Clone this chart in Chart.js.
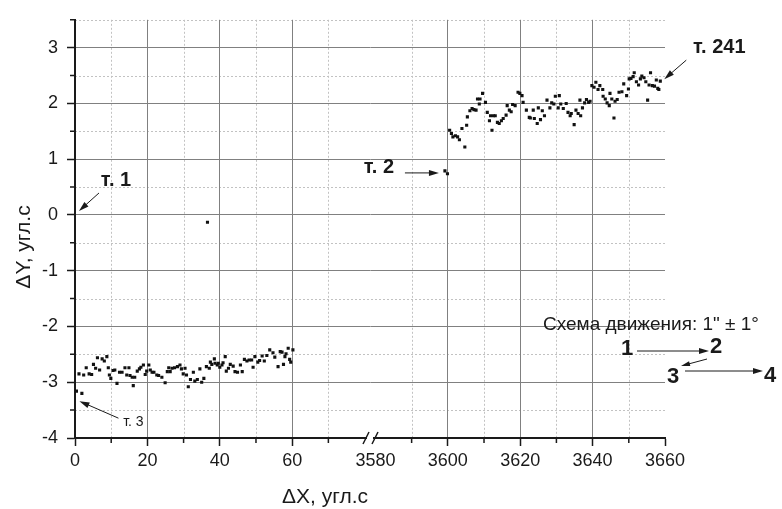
<!DOCTYPE html>
<html>
<head>
<meta charset="utf-8">
<title>ΔY от ΔX</title>
<script src="https://cdn.jsdelivr.net/npm/chart.js@4/dist/chart.umd.min.js"></script>
<style>
  html, body { margin: 0; background: #fff; }
  #wrap { width: 782px; height: 509px; }
</style>
</head>
<body>
<div id="wrap"><canvas id="myChart"></canvas></div>
<script>
// --- data ---
const leftX = [0.4, 1.1, 1.9, 2.4, 3.1, 3.9, 4.6, 5.1, 5.7, 6.2, 6.8, 7.5, 8.1, 8.8, 9.2, 9.5, 9.9,
  10.5, 11.0, 11.6, 12.3, 13.0, 13.8, 14.3, 14.9, 15.2, 15.8, 16.1, 16.5, 17.2, 17.8, 18.2, 18.9, 19.4, 19.8,
  20.4, 20.8, 21.3, 21.8, 22.6, 23.1, 24.0, 24.9, 25.5, 25.9, 26.3, 26.8, 27.5, 28.3, 29.0, 29.4, 29.9,
  30.4, 30.8, 31.3, 31.9, 32.7, 33.1, 33.8, 34.5, 35.0, 35.6, 36.3, 37.1, 37.4, 37.8, 38.5, 38.7, 39.3, 39.6,
  40.0, 40.6, 40.9, 41.5, 41.8, 42.4, 42.9, 43.7, 44.2, 44.9, 45.7, 46.2, 46.8, 47.5, 48.1, 48.8, 49.2, 49.7,
  50.5, 51.0, 51.7, 52.3, 53.0, 53.8, 54.7, 55.2, 56.1, 56.7, 57.2, 57.6, 58.0, 58.3, 58.9, 59.3, 59.6, 60.2];
const leftY = [-3.16, -2.85, -3.20, -2.87, -2.74, -2.85, -2.86, -2.68, -2.75, -2.56, -2.78, -2.58, -2.62, -2.54, -2.74, -2.87, -2.93,
  -2.79, -2.78, -3.02, -2.82, -2.82, -2.74, -2.87, -2.74, -2.88, -2.91, -3.06, -2.91, -2.80, -2.76, -2.73, -2.69, -2.86, -2.80,
  -2.69, -2.78, -2.82, -2.82, -2.87, -2.88, -2.91, -3.01, -2.81, -2.74, -2.81, -2.75, -2.74, -2.72, -2.69, -2.76, -2.85,
  -2.75, -2.87, -3.08, -2.95, -2.82, -2.98, -2.95, -2.76, -3.00, -2.93, -2.72, -2.75, -2.64, -2.68, -2.58, -2.66, -2.69, -2.66,
  -2.73, -2.69, -2.65, -2.54, -2.80, -2.75, -2.68, -2.71, -2.81, -2.82, -2.69, -2.81, -2.59, -2.62, -2.60, -2.60, -2.73, -2.54,
  -2.64, -2.61, -2.53, -2.62, -2.52, -2.42, -2.47, -2.55, -2.72, -2.45, -2.46, -2.68, -2.54, -2.49, -2.39, -2.59, -2.64, -2.42];

const loneX = [36.6];
const loneY = [-0.13];

const rightX = [3599.2, 3599.9, 3600.5, 3601.0, 3601.4, 3602.1, 3602.7, 3603.2, 3603.9, 3604.7, 3605.2, 3605.4, 3606.1, 3606.7,
  3607.2, 3607.8, 3608.2, 3608.7, 3608.9, 3609.6, 3610.4, 3610.9, 3611.5, 3611.8, 3612.2, 3612.6, 3613.1, 3613.7, 3614.2,
  3614.8, 3615.3, 3616.1, 3616.4, 3617.0, 3617.5, 3617.9, 3618.6, 3619.4, 3619.9, 3620.5, 3620.8, 3621.7, 3622.5, 3622.8,
  3623.6, 3623.9, 3624.7, 3625.0, 3625.6, 3626.1, 3626.7, 3627.4, 3628.2, 3628.7, 3629.3, 3629.7, 3630.5, 3630.8, 3631.2,
  3631.9, 3632.7, 3633.2, 3633.8, 3634.1, 3634.9, 3635.4, 3636.0, 3636.5, 3636.7, 3637.2, 3637.8, 3638.3, 3638.9, 3639.3,
  3639.8, 3640.4, 3640.9, 3641.5, 3642.0, 3642.8, 3642.9, 3643.5, 3644.0, 3644.6, 3644.8, 3645.3, 3645.9, 3646.2, 3646.8,
  3647.3, 3648.1, 3648.6, 3649.4, 3649.9, 3650.1, 3650.6, 3651.2, 3651.5, 3652.1, 3652.7, 3653.2, 3653.6, 3654.2, 3654.7,
  3655.2, 3655.6, 3656.0, 3656.5, 3657.1, 3657.6, 3658.0, 3658.3, 3658.7];
const rightY = [0.79, 0.74, 1.52, 1.46, 1.40, 1.42, 1.40, 1.35, 1.55, 1.22, 1.61, 1.76, 1.87, 1.91,
  1.89, 1.88, 2.08, 1.99, 2.08, 2.18, 2.02, 1.84, 1.69, 1.78, 1.52, 1.78, 1.78, 1.66, 1.64,
  1.69, 1.73, 1.79, 1.96, 1.88, 1.85, 1.98, 1.96, 2.20, 2.18, 2.14, 2.02, 1.88, 1.75, 1.74,
  1.88, 1.73, 1.64, 1.92, 1.71, 1.87, 1.78, 2.06, 1.92, 2.01, 1.99, 2.13, 1.92, 2.14, 1.99,
  1.91, 2.00, 1.84, 1.78, 1.82, 1.62, 1.88, 1.82, 2.06, 1.78, 1.92, 2.01, 2.07, 2.02, 2.04,
  2.32, 2.29, 2.38, 2.25, 2.32, 2.25, 2.13, 2.08, 2.01, 1.96, 2.18, 2.08, 1.74, 2.04, 2.07,
  2.20, 2.21, 2.35, 2.14, 2.26, 2.44, 2.45, 2.48, 2.55, 2.39, 2.33, 2.44, 2.49, 2.46, 2.39,
  2.06, 2.33, 2.55, 2.32, 2.31, 2.42, 2.27, 2.25, 2.40];

const xMajor = [0, 20, 40, 60, 3580, 3600, 3620, 3640, 3660];
const xMinor = [10, 30, 50, 70, 3590, 3610, 3630, 3650];
const xSolidGrid = [20, 40, 60, 3600, 3620, 3640];
const yMajor = [-4, -3, -2, -1, 0, 1, 2, 3];
const yMinor = [-3.5, -2.5, -1.5, -0.5, 0.5, 1.5, 2.5, 3.5];

// broken x axis: 3580 sits at 83 on the folded scale
const BREAK_FROM = 3580;
const BREAK_AT = 83;
const fold = x => (x >= BREAK_FROM - 15 ? x - BREAK_FROM + BREAK_AT : x);

const toPts = (xs, ys) => xs.map((x, i) => ({ x: fold(x), y: ys[i] }));

const FONT = "'Liberation Sans', Arial, sans-serif";
const INK = '#1a1a1a';

function arrow(ctx, x1, y1, x2, y2, head = 10, half = 3) {
  const a = Math.atan2(y2 - y1, x2 - x1);
  ctx.beginPath();
  ctx.moveTo(x1, y1);
  ctx.lineTo(x2 - head * 0.8 * Math.cos(a), y2 - head * 0.8 * Math.sin(a));
  ctx.stroke();
  ctx.beginPath();
  ctx.moveTo(x2, y2);
  ctx.lineTo(x2 - head * Math.cos(a) + half * Math.sin(a), y2 - head * Math.sin(a) - half * Math.cos(a));
  ctx.lineTo(x2 - head * Math.cos(a) - half * Math.sin(a), y2 - head * Math.sin(a) + half * Math.cos(a));
  ctx.closePath();
  ctx.fill();
}

// minor dotted grid and short ticks, under everything else
const minorGrid = {
  id: 'minorGrid',
  beforeDraw(chart) {
    const { ctx, chartArea: a, scales: { x, y } } = chart;
    ctx.save();
    ctx.lineWidth = 1;
    ctx.strokeStyle = '#c2c2c2';
    ctx.setLineDash([2, 2]);
    ctx.beginPath();
    xMinor.forEach(v => {
      const px = Math.round(x.getPixelForValue(fold(v))) + 0.5;
      ctx.moveTo(px, a.top); ctx.lineTo(px, a.bottom);
    });
    yMinor.forEach(v => {
      const py = Math.round(y.getPixelForValue(v)) + 0.5;
      ctx.moveTo(a.left, py); ctx.lineTo(a.right, py);
    });
    ctx.stroke();
    ctx.setLineDash([]);
    ctx.strokeStyle = INK;
    ctx.lineWidth = 1.5;
    ctx.beginPath();
    xMinor.forEach(v => {
      const px = x.getPixelForValue(fold(v));
      ctx.moveTo(px, a.bottom); ctx.lineTo(px, a.bottom + 5);
    });
    yMinor.forEach(v => {
      const py = y.getPixelForValue(v);
      ctx.moveTo(a.left - 5, py); ctx.lineTo(a.left, py);
    });
    ctx.stroke();
    ctx.restore();
  }
};

// axis break, titles and the point labels
const notes = {
  id: 'notes',
  afterDraw(chart) {
    const { ctx, chartArea: a, scales: { x, y } } = chart;
    ctx.save();
    ctx.fillStyle = INK;
    ctx.strokeStyle = INK;

    // break marks on the x axis
    const bx = x.getPixelForValue(81.5);
    ctx.fillStyle = '#fff';
    ctx.fillRect(bx - 3, a.bottom - 2, 6, 4);
    ctx.fillStyle = INK;
    ctx.lineWidth = 1.5;
    ctx.beginPath();
    ctx.moveTo(bx - 7, a.bottom + 6); ctx.lineTo(bx - 1, a.bottom - 6);
    ctx.moveTo(bx + 2, a.bottom + 6); ctx.lineTo(bx + 8, a.bottom - 6);
    ctx.stroke();

    // axis titles
    ctx.font = '21px ' + FONT;
    ctx.textAlign = 'center';
    ctx.textBaseline = 'middle';
    ctx.fillText('ΔX, угл.с', 325, 497);
    ctx.save();
    ctx.translate(24, 247);
    ctx.rotate(-Math.PI / 2);
    ctx.fillText('ΔY, угл.с', 0, 0);
    ctx.restore();

    // point labels
    ctx.lineWidth = 1;
    const at = (xv, yv) => [x.getPixelForValue(fold(xv)), y.getPixelForValue(yv)];
    let [px, py] = at(0, 0);
    ctx.font = 'bold 20px ' + FONT;
    ctx.fillText('т. 1', px + 41, py - 34);
    arrow(ctx, px + 24, py - 22, px + 4, py - 4);

    [px, py] = at(rightX[0], rightY[0]);
    ctx.fillText('т. 2', px - 66, py - 3);
    arrow(ctx, px - 40, py + 2, px - 6, py + 2);

    [px, py] = at(rightX[rightX.length - 1], rightY[rightY.length - 1]);
    ctx.fillText('т. 241', px + 59, py - 34);
    arrow(ctx, px + 26, py - 21, px + 4, py - 2);

    [px, py] = at(leftX[0], leftY[0]);
    ctx.font = '14px ' + FONT;
    ctx.fillText('т. 3', px + 57, py + 31);
    arrow(ctx, px + 42, py + 27, px + 3, py + 10);

    // movement scheme
    ctx.font = '19px ' + FONT;
    ctx.textAlign = 'left';
    ctx.fillText('Схема движения: 1" ± 1°', 543, 325);
    ctx.font = 'bold 22px ' + FONT;
    ctx.textAlign = 'center';
    ctx.fillText('1', 627, 349);
    ctx.fillText('2', 716, 347);
    ctx.fillText('3', 673, 377);
    ctx.fillText('4', 770, 376);
    arrow(ctx, 637, 351, 709, 351);
    arrow(ctx, 707, 359, 681, 366, 9, 2.5);
    arrow(ctx, 685, 371, 763, 371);
    ctx.restore();
  }
};

const dotStyle = { pointStyle: 'rect', pointRadius: 2.2, pointHoverRadius: 2.2, borderWidth: 0, backgroundColor: '#111', showLine: false };

new Chart(document.getElementById('myChart'), {
  type: 'scatter',
  data: {
    datasets: [
      { label: 'ΔX 0…60', data: toPts(leftX, leftY), ...dotStyle },
      { label: 'выброс', data: toPts(loneX, loneY), ...dotStyle },
      { label: 'ΔX 3600…3660', data: toPts(rightX, rightY), ...dotStyle }
    ]
  },
  options: {
    responsive: true,
    maintainAspectRatio: false,
    animation: false,
    events: [],
    layout: { padding: { left: 0, top: 16, right: 117, bottom: 0 } },
    plugins: { legend: { display: false }, tooltip: { enabled: false } },
    scales: {
      x: {
        type: 'linear',
        min: 0,
        max: fold(3660),
        afterBuildTicks: s => { s.ticks = xMajor.map(v => ({ value: fold(v) })); },
        afterFit: s => { s.height = 71; },
        ticks: {
          autoSkip: false,
          maxRotation: 0,
          padding: 4,
          color: INK,
          font: { family: FONT, size: 18 },
          callback: (v, i) => String(xMajor[i])
        },
        grid: {
          color: c => (xSolidGrid.includes(xMajor[c.index]) ? '#808080' : 'rgba(0,0,0,0)'),
          tickColor: c => (xMajor[c.index] === BREAK_FROM ? 'rgba(0,0,0,0)' : INK),
          tickLength: 8,
          tickWidth: 1.5,
          lineWidth: 1
        },
        border: { display: true, color: INK, width: 2 }
      },
      y: {
        type: 'linear',
        min: -4,
        max: 3.5,
        afterBuildTicks: s => { s.ticks = yMajor.map(v => ({ value: v })); },
        afterFit: s => { s.width = 75; },
        ticks: {
          autoSkip: false,
          padding: 9,
          color: INK,
          font: { family: FONT, size: 18 },
          callback: v => String(v)
        },
        grid: {
          color: c => (c.tick && c.tick.value === -4 ? 'rgba(0,0,0,0)' : '#808080'),
          tickColor: INK,
          tickLength: 8,
          tickWidth: 1.5,
          lineWidth: 1
        },
        border: { display: true, color: INK, width: 2 }
      }
    }
  },
  plugins: [minorGrid, notes]
});
</script>
</body>
</html>
